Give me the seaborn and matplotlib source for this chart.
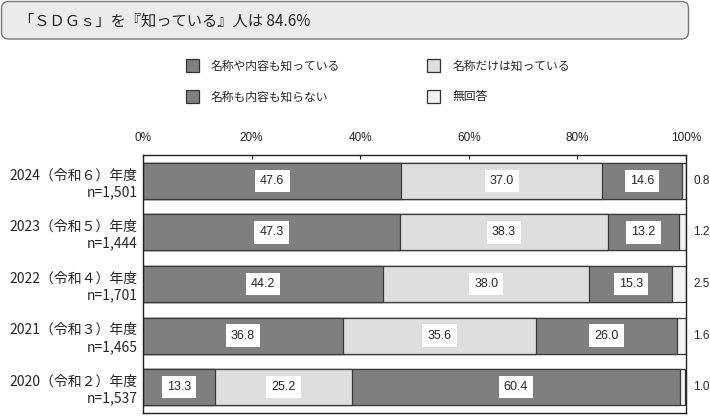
import pandas as pd
import numpy as np
import matplotlib
matplotlib.use('Agg')
import matplotlib.pyplot as plt
from matplotlib.patches import Patch, FancyBboxPatch
from matplotlib.transforms import IdentityTransform
import seaborn as sns

# data
years = ['2024（令和６）年度', '2023（令和５）年度', '2022（令和４）年度',
         '2021（令和３）年度', '2020（令和２）年度']
sample_n = ['n=1,501', 'n=1,444', 'n=1,701', 'n=1,465', 'n=1,537']
categories = ['名称や内容も知っている', '名称だけは知っている', '名称も内容も知らない', '無回答']
know_both = [47.6, 47.3, 44.2, 36.8, 13.3]
name_only = [37.0, 38.3, 38.0, 35.6, 25.2]
know_none = [14.6, 13.2, 15.3, 26.0, 60.4]
no_answer = [0.8, 1.2, 2.5, 1.6, 1.0]
colors = ['#7f7f7f', '#dedede', '#7f7f7f', '#f2f2f2']
title = '「ＳＤＧｓ」を『知っている』人は 84.6%'

sns.set_style('white')
plt.rcParams['font.family'] = ['Noto Sans CJK JP', 'DejaVu Sans']

labels = [f'{y}\n{n}' for y, n in zip(years, sample_n)]
df = pd.DataFrame({'label': labels, 'a': know_both, 'b': name_only,
                   'c': know_none, 'd': no_answer})
series = ['a', 'b', 'c', 'd']
cum = df[series].cumsum(axis=1)
for s in series:
    df['cum_' + s] = cum[s]

fig = plt.figure(figsize=(7.1, 4.16), dpi=100)
ax = fig.add_axes([143 / 710, 1 - 413 / 416, 543 / 710, 258 / 416])

# stacked bars: draw cumulative totals from the outer layer inward
for s, col in reversed(list(zip(series, colors))):
    sns.barplot(data=df, x='cum_' + s, y='label', orient='h', color=col,
                saturation=1, width=0.7, edgecolor='#3a3a3a', linewidth=0.9, ax=ax)

# value labels in white boxes
for i in range(len(df)):
    left = 0
    for s in series[:3]:
        v = df.loc[i, s]
        ax.text(left + v / 2, i, f'{v:.1f}', ha='center', va='center',
                fontsize=9, family='Liberation Sans',
                bbox=dict(facecolor='white', edgecolor='none', pad=3.8))
        left += v
    ax.text(101.3, i, f'{df.loc[i, "d"]:.1f}', ha='left', va='center',
            fontsize=8.5, family='Liberation Sans', clip_on=False)

ax.set_xlim(0, 100)
ax.set_ylim(4.5, -0.5)
ax.set_xlabel('')
ax.set_ylabel('')
ax.xaxis.tick_top()
ax.set_xticks([0, 20, 40, 60, 80, 100])
ax.set_xticklabels([f'{t}%' for t in [0, 20, 40, 60, 80, 100]],
                   family='Liberation Sans', fontsize=8.5)
ax.tick_params(axis='x', direction='in', length=3, width=0.8, pad=8, colors='#222222')
ax.tick_params(axis='y', length=0, pad=4, labelsize=10)
for lbl in ax.get_yticklabels():
    lbl.set_multialignment('right')
    lbl.set_linespacing(1.25)
for sp in ax.spines.values():
    sp.set_visible(True)
    sp.set_color('#222222')
    sp.set_linewidth(1.0)

# legend
handles = [Patch(facecolor=c, edgecolor='#333333', linewidth=0.9) for c in colors]
order = [0, 2, 1, 3]
fig.legend([handles[k] for k in order], [categories[k] for k in order],
           ncol=2, loc='upper left', bbox_to_anchor=(186 / 710, 1 - 59 / 416),
           frameon=False, fontsize=8.5, borderpad=0, borderaxespad=0,
           handlelength=1.1, handleheight=1.35, handletextpad=1.0,
           labelspacing=1.45, columnspacing=7.4)

# title box
box = FancyBboxPatch((1.5, 416 - 39), 687, 37.5,
                     boxstyle='round,pad=0,rounding_size=7',
                     transform=IdentityTransform(), facecolor='#ebebeb',
                     edgecolor='#7a7a7a', linewidth=1.0)
fig.patches.append(box)
fig.text(19 / 710, 1 - 21 / 416, title, ha='left', va='center', fontsize=11)

fig.savefig('out.png', dpi=100)
